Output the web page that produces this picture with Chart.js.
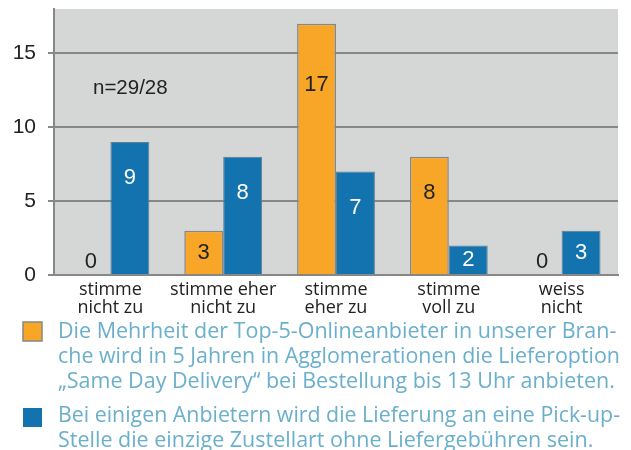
<!DOCTYPE html>
<html>
<head>
<meta charset="utf-8">
<script src="https://cdn.jsdelivr.net/npm/chart.js@4/dist/chart.umd.min.js"></script>
<style>
  html, body { margin: 0; padding: 0; background: #fff; }
  #wrap { width: 631px; height: 450px; position: relative; }
</style>
</head>
<body>
<div id="wrap"><canvas id="chart" width="631" height="450"></canvas></div>
<script>
// categories and values
var categories = [
    ['stimme', 'nicht zu'],
    ['stimme eher', 'nicht zu'],
    ['stimme', 'eher zu'],
    ['stimme', 'voll zu'],
    ['weiss', 'nicht']
];
var sameDayValues = [0, 3, 17, 8, 0];
var pickupValues = [9, 8, 7, 2, 3];
var yTicks = [0, 5, 10, 15];
var sameDayLegend = [
    'Die Mehrheit der Top-5-Onlineanbieter in unserer Bran-',
    'che wird in 5 Jahren in Agglomerationen die Lieferoption',
    '\u201ESame Day Delivery\u201C bei Bestellung bis 13 Uhr anbieten.'
];
var pickupLegend = [
    'Bei einigen Anbietern wird die Lieferung an eine Pick-up-',
    'Stelle die einzige Zustellart ohne Liefergeb\u00FChren sein.'
];
var sampleNote = 'n=29/28';

var ORANGE = '#f7a628';
var BLUE = '#1373ae';
var GRID = '#878787';

var plotBackground = {
    id: 'plotBackground',
    beforeDraw: function (chart) {
        var a = chart.chartArea, ctx = chart.ctx;
        ctx.save();
        ctx.fillStyle = '#d5d6d6';
        ctx.fillRect(a.left, a.top, a.right - a.left, a.bottom - a.top);
        ctx.restore();
    }
};

var valueLabels = {
    id: 'valueLabels',
    afterDatasetsDraw: function (chart) {
        var ctx = chart.ctx;
        var base = chart.scales.y.getPixelForValue(0);
        ctx.save();
        ctx.font = '22px "Liberation Sans", Arial, sans-serif';
        ctx.textAlign = 'center';
        ctx.textBaseline = 'middle';
        chart.data.datasets.forEach(function (ds, i) {
            chart.getDatasetMeta(i).data.forEach(function (bar, j) {
                var v = ds.data[j];
                var y;
                if (v === 0) y = base - 13;
                else if (v > 10) y = bar.y + 61;
                else y = Math.min(bar.y + 36, (bar.y + base) / 2);
                ctx.fillStyle = v === 0 ? '#222' : ds.valueColor;
                ctx.fillText(String(v), bar.x, y);
            });
        });
        // sample size note
        ctx.font = '20.5px "Liberation Sans", Arial, sans-serif';
        ctx.fillStyle = '#222';
        ctx.textAlign = 'left';
        ctx.fillText(sampleNote, chart.chartArea.left + 39, 88);
        ctx.restore();
    }
};

var blockLegend = {
    id: 'blockLegend',
    afterDraw: function (chart) {
        var ctx = chart.ctx;
        var rows = [{ top: 322, baseline: 338 }, { top: 408, baseline: 422 }];
        ctx.save();
        ctx.font = '21.5px "Open Sans", "Noto Sans", sans-serif';
        ctx.textBaseline = 'alphabetic';
        chart.data.datasets.forEach(function (ds, i) {
            var r = rows[i];
            ctx.fillStyle = ds.backgroundColor;
            ctx.fillRect(23, r.top, 19, 19);
            if (i === 0) {
                ctx.strokeStyle = GRID;
                ctx.lineWidth = 1.5;
                ctx.strokeRect(23, r.top, 19, 19);
            }
            ctx.fillStyle = '#6aafcc';
            ds.legendLines.forEach(function (line, k) {
                ctx.fillText(line, 58, r.baseline + k * 25, 562);
            });
        });
        ctx.restore();
    }
};

function noPadding(s) {
    s.paddingTop = 0;
    s.paddingBottom = 0;
    s.paddingLeft = 0;
    s.paddingRight = 0;
}

var chart = new Chart(document.getElementById('chart').getContext('2d'), {
    type: 'bar',
    data: {
        labels: categories,
        datasets: [{
            label: sameDayLegend.join(' '),
            legendLines: sameDayLegend,
            data: sameDayValues,
            backgroundColor: ORANGE,
            borderColor: GRID,
            borderWidth: 1.5,
            valueColor: '#222'
        }, {
            label: pickupLegend.join(' '),
            legendLines: pickupLegend,
            data: pickupValues,
            backgroundColor: BLUE,
            borderColor: '#5f7f93',
            borderWidth: 1,
            valueColor: '#fff'
        }]
    },
    options: {
        responsive: false,
        animation: false,
        layout: { padding: { top: 9, right: 13, left: 0, bottom: 0 } },
        plugins: {
            legend: { display: false },
            tooltip: { enabled: false }
        },
        datasets: {
            bar: { categoryPercentage: 0.69, barPercentage: 1 }
        },
        scales: {
            x: {
                grid: { display: false },
                border: { color: GRID, width: 2 },
                ticks: {
                    color: '#222',
                    padding: -2,
                    maxRotation: 0,
                    font: { family: '"Open Sans", "Noto Sans", sans-serif', size: 18, lineHeight: 1.0 }
                },
                afterFit: function (s) { s.height = 175; noPadding(s); }
            },
            y: {
                min: 0,
                max: 18,
                grid: { color: GRID, lineWidth: 2, tickLength: 6, drawOnChartArea: true },
                border: { color: GRID, width: 2 },
                ticks: {
                    stepSize: 5,
                    includeBounds: false,
                    color: '#222',
                    padding: 12,
                    font: { family: '"Liberation Sans", Arial, sans-serif', size: 21 },
                    callback: function (v) { return yTicks.indexOf(v) >= 0 ? String(v) : ''; }
                },
                afterFit: function (s) { s.width = 54; noPadding(s); }
            }
        }
    },
    plugins: [plotBackground, valueLabels, blockLegend]
});
</script>
</body>
</html>
